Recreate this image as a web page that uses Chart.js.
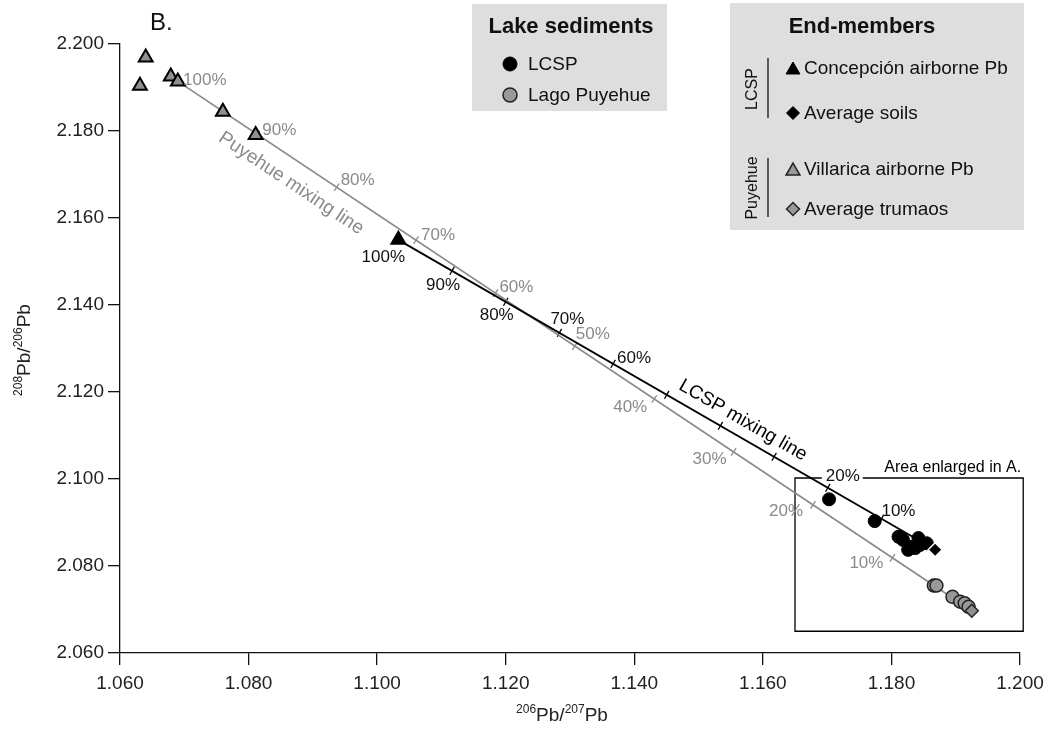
<!DOCTYPE html>
<html>
<head>
<meta charset="utf-8">
<script src="https://cdn.jsdelivr.net/npm/chart.js@4.4.0/dist/chart.umd.min.js"></script>
<style>
  body { margin: 0; background: #fff; }
</style>
</head>
<body>
<canvas id="myChart" width="1055" height="729"></canvas>
<script>
// Lake sediments
const lcspX = [1.1703, 1.1774, 1.1811, 1.1818, 1.1829, 1.1842, 1.1844, 1.1855, 1.1837, 1.1826];
const lcspY = [2.0953, 2.0903, 2.0867, 2.0860, 2.0844, 2.0864, 2.0848, 2.0852, 2.0841, 2.0837];
const puyX = [1.1866, 1.1870, 1.1895, 1.1907, 1.1914, 1.1920];
const puyY = [2.0755, 2.0755, 2.0729, 2.0718, 2.0714, 2.0706];

// End-members
const villaricaX = [1.0631, 1.0640, 1.0679, 1.0690, 1.0760, 1.0811];
const villaricaY = [2.1903, 2.1968, 2.1924, 2.1913, 2.1843, 2.1790];
const concepcionX = [1.1033];
const concepcionY = [2.1549];
const soilsX = [1.1868];
const soilsY = [2.0837];
const trumaosX = [1.1925];
const trumaosY = [2.0697];

// mixing line percentages (share of the airborne end-member)
const mixPct = [10, 20, 30, 40, 50, 60, 70, 80, 90];
const lcspLabels = [100, 90, 80, 70, 60, 20, 10];
const puyLabels = [100, 90, 80, 70, 60, 50, 40, 30, 20, 10];

// area enlarged in panel A
const areaX = [1.165, 1.2005];
const areaY = [2.065, 2.1002];

// axis ticks
const xTickValues = [1.06, 1.08, 1.10, 1.12, 1.14, 1.16, 1.18, 1.20];
const yTickValues = [2.06, 2.08, 2.10, 2.12, 2.14, 2.16, 2.18, 2.20];

const FONT = "'Liberation Sans', Arial, sans-serif";
const GREY = "#8a8a8a";

const pts = (xs, ys) => xs.map((x, i) => ({ x: x, y: ys[i] }));

// end points of the two mixing lines: [100% end, 0% end]
const lcspEnds = [{ x: concepcionX[0], y: concepcionY[0] }, { x: soilsX[0], y: soilsY[0] }];
const puyEnds = [{ x: villaricaX[3], y: villaricaY[3] }, { x: trumaosX[0], y: trumaosY[0] }];

const lcspOffsets = { 100: [-15, 17], 90: [-9, 14], 80: [-9, 13], 70: [8, -14], 60: [21, -6], 20: [15, -12], 10: [17, -8] };
const puyOffsets = { 100: [27, -1], 90: [22, -4], 80: [21, -7], 70: [22, -5], 60: [21, -6], 50: [18, -12], 40: [-24, 8], 30: [-24, 7], 20: [-27, 6], 10: [-26, 5] };

function linePx(chart, ends) {
  const sx = chart.scales.x, sy = chart.scales.y;
  return {
    a: { x: sx.getPixelForValue(ends[0].x), y: sy.getPixelForValue(ends[0].y) },
    b: { x: sx.getPixelForValue(ends[1].x), y: sy.getPixelForValue(ends[1].y) }
  };
}
// position at p percent (100 = first end, 0 = second end)
function atPct(l, p) {
  const f = p / 100;
  return { x: l.b.x + f * (l.a.x - l.b.x), y: l.b.y + f * (l.a.y - l.b.y) };
}

const mixingPlugin = {
  id: "mixing",
  beforeDatasetsDraw(chart) {
    const ctx = chart.ctx;
    // tick marks along the mixing lines
    [[lcspEnds, "#000"], [puyEnds, GREY]].forEach(([ends, col]) => {
      const l = linePx(chart, ends);
      const len = Math.hypot(l.b.x - l.a.x, l.b.y - l.a.y);
      const nx = -(l.b.y - l.a.y) / len, ny = (l.b.x - l.a.x) / len;
      ctx.save();
      ctx.strokeStyle = col;
      ctx.lineWidth = 1.3;
      mixPct.forEach(p => {
        const q = atPct(l, p);
        ctx.beginPath();
        ctx.moveTo(q.x - nx * 4.5, q.y - ny * 4.5);
        ctx.lineTo(q.x + nx * 4.5, q.y + ny * 4.5);
        ctx.stroke();
      });
      ctx.restore();
    });

    // area enlarged box, gap in the top edge for the 20% label
    const sx = chart.scales.x, sy = chart.scales.y;
    const x0 = sx.getPixelForValue(areaX[0]), x1 = sx.getPixelForValue(areaX[1]);
    const y0 = sy.getPixelForValue(areaY[1]), y1 = sy.getPixelForValue(areaY[0]);
    const l = linePx(chart, lcspEnds);
    const q20 = atPct(l, 20);
    const gapA = q20.x - 6, gapB = q20.x + 35;
    ctx.save();
    ctx.strokeStyle = "#000";
    ctx.lineWidth = 1.3;
    ctx.beginPath();
    ctx.moveTo(gapA, y0); ctx.lineTo(x0, y0); ctx.lineTo(x0, y1);
    ctx.lineTo(x1, y1); ctx.lineTo(x1, y0); ctx.lineTo(gapB, y0);
    ctx.stroke();
    ctx.fillStyle = "#000";
    ctx.font = "16px " + FONT;
    ctx.textAlign = "right";
    ctx.textBaseline = "alphabetic";
    ctx.fillText("Area enlarged in A.", x1 - 2, y0 - 6);
    ctx.restore();
  },
  afterDraw(chart) {
    const ctx = chart.ctx;
    ctx.save();
    ctx.textAlign = "center";
    ctx.textBaseline = "middle";
    ctx.font = "17px " + FONT;

    const l1 = linePx(chart, lcspEnds);
    ctx.fillStyle = "#111";
    lcspLabels.forEach(p => {
      const q = atPct(l1, p), o = lcspOffsets[p];
      ctx.fillText(p + "%", q.x + o[0], q.y + o[1]);
    });
    const l2 = linePx(chart, puyEnds);
    ctx.fillStyle = GREY;
    puyLabels.forEach(p => {
      const q = atPct(l2, p), o = puyOffsets[p];
      ctx.fillText(p + "%", q.x + o[0], q.y + o[1]);
    });

    // rotated line names
    const label = (l, frac, off, text, col) => {
      const dx = l.b.x - l.a.x, dy = l.b.y - l.a.y, len = Math.hypot(dx, dy);
      const ux = dx / len, uy = dy / len;
      const cx = l.a.x + ux * len * frac - uy * off;
      const cy = l.a.y + uy * len * frac + ux * off;
      ctx.save();
      ctx.translate(cx, cy);
      ctx.rotate(Math.atan2(dy, dx));
      ctx.fillStyle = col;
      ctx.font = "19px " + FONT;
      ctx.fillText(text, 0, 0);
      ctx.restore();
    };
    label(l2, 0.158, 22, "Puyehue mixing line", GREY);
    label(l1, 0.627, -16, "LCSP mixing line", "#000");

    // panel letter
    ctx.fillStyle = "#111";
    ctx.font = "24px " + FONT;
    ctx.textAlign = "left";
    ctx.fillText("B.", 150, 23);

    // axis titles with superscripts
    const isoTitle = (parts, cx, cy, rot) => {
      ctx.save();
      ctx.translate(cx, cy);
      ctx.rotate(rot);
      ctx.fillStyle = "#222";
      ctx.textAlign = "left";
      ctx.textBaseline = "alphabetic";
      let w = 0;
      parts.forEach(([t, sup]) => { ctx.font = (sup ? "12px " : "19px ") + FONT; w += ctx.measureText(t).width; });
      let x = -w / 2;
      parts.forEach(([t, sup]) => {
        ctx.font = (sup ? "12px " : "19px ") + FONT;
        ctx.fillText(t, x, sup ? -1 : 7);
        x += ctx.measureText(t).width;
      });
      ctx.restore();
    };
    isoTitle([["208", 1], ["Pb/", 0], ["206", 1], ["Pb", 0]], 23, 350, -Math.PI / 2);
    isoTitle([["206", 1], ["Pb/", 0], ["207", 1], ["Pb", 0]], 562, 714, 0);

    // legends
    const drawMark = (style, fill, stroke, bw, r, x, y) => {
      ctx.save();
      ctx.fillStyle = fill;
      ctx.strokeStyle = stroke;
      ctx.lineWidth = bw;
      Chart.helpers.drawPoint(ctx, { pointStyle: style, radius: r, rotation: 0, borderWidth: bw }, x, y);
      ctx.restore();
    };
    ctx.fillStyle = "#dedede";
    ctx.fillRect(472, 4, 195, 107);
    ctx.fillRect(730, 3, 294, 227);

    ctx.fillStyle = "#111";
    ctx.textAlign = "center";
    ctx.font = "bold 22px " + FONT;
    ctx.fillText("Lake sediments", 571, 27);
    ctx.fillText("End-members", 862, 27);

    ctx.font = "19px " + FONT;
    ctx.textAlign = "left";
    drawMark("circle", "#000", "#000", 1, 7, 510, 64);
    drawMark("circle", "#999", "#222", 1.5, 7, 510, 95);
    ctx.fillStyle = "#111";
    ctx.fillText("LCSP", 528, 65);
    ctx.fillText("Lago Puyehue", 528, 96);

    drawMark("triangle", "#000", "#000", 1, 8, 793, 70);
    drawMark("rectRot", "#000", "#000", 1, 6.5, 793, 113);
    drawMark("triangle", "#999", "#222", 1.5, 8, 793, 171);
    drawMark("rectRot", "#999", "#222", 1.5, 6.5, 793, 209);
    ctx.fillStyle = "#111";
    ctx.fillText("Concepción airborne Pb", 804, 69);
    ctx.fillText("Average soils", 804, 114);
    ctx.fillText("Villarica airborne Pb", 804, 170);
    ctx.fillText("Average trumaos", 804, 210);

    ctx.strokeStyle = "#111";
    ctx.lineWidth = 1.3;
    ctx.beginPath();
    ctx.moveTo(768, 58); ctx.lineTo(768, 118);
    ctx.moveTo(768, 158); ctx.lineTo(768, 217);
    ctx.stroke();

    ctx.font = "16px " + FONT;
    ctx.textAlign = "center";
    [["LCSP", 89], ["Puyehue", 188]].forEach(([t, y]) => {
      ctx.save();
      ctx.translate(753, y);
      ctx.rotate(-Math.PI / 2);
      ctx.fillText(t, 0, 0);
      ctx.restore();
    });
    ctx.restore();
  }
};

const axisOpts = (values, fit, pad) => ({
  type: "linear",
  min: values[0],
  max: values[values.length - 1],
  afterBuildTicks: s => { s.ticks = values.map(v => ({ value: v })); },
  afterFit: fit,
  grid: { display: true, drawOnChartArea: false, drawTicks: true, tickLength: 12, tickColor: "#111", lineWidth: 1.3 },
  border: { display: true, color: "#111", width: 1.3 },
  ticks: { callback: v => v.toFixed(3), color: "#222", padding: pad, font: { family: FONT, size: 19 }, maxRotation: 0, autoSkip: false }
});

const ctx = document.getElementById("myChart");

new Chart(ctx, {
  type: "scatter",
  data: {
    datasets: [
      { type: "line", data: lcspEnds, borderColor: "#000", borderWidth: 1.8, pointRadius: 0, fill: false, order: 10 },
      { type: "line", data: puyEnds, borderColor: GREY, borderWidth: 1.8, pointRadius: 0, fill: false, order: 10 },
      { label: "LCSP", data: pts(lcspX, lcspY), pointStyle: "circle", pointRadius: 6.5, backgroundColor: "#000", borderColor: "#000", borderWidth: 1, order: 5 },
      { label: "Lago Puyehue", data: pts(puyX, puyY), pointStyle: "circle", pointRadius: 6.5, backgroundColor: "#999", borderColor: "#222", borderWidth: 1.5, order: 5 },
      { label: "Villarica airborne Pb", data: pts(villaricaX, villaricaY), pointStyle: "triangle", pointRadius: 8, backgroundColor: "#8f8f8f", borderColor: "#000", borderWidth: 2, order: 1 },
      { label: "Concepción airborne Pb", data: pts(concepcionX, concepcionY), pointStyle: "triangle", pointRadius: 8, backgroundColor: "#000", borderColor: "#000", borderWidth: 2, order: 1 },
      { label: "Average soils", data: pts(soilsX, soilsY), pointStyle: "rectRot", pointRadius: 7, backgroundColor: "#000", borderColor: "#fff", borderWidth: 1.5, order: 1 },
      { label: "Average trumaos", data: pts(trumaosX, trumaosY), pointStyle: "rectRot", pointRadius: 6.5, backgroundColor: "#8f8f8f", borderColor: "#222", borderWidth: 1.5, order: 1 }
    ]
  },
  options: {
    responsive: false,
    animation: false,
    layout: { padding: { top: 43.5, right: 35, left: 0, bottom: 0 } },
    plugins: { legend: { display: false }, tooltip: { enabled: false } },
    scales: {
      x: axisOpts(xTickValues, s => { s.height = 76; }, 7),
      y: axisOpts(yTickValues, s => { s.width = 120; }, 4)
    }
  },
  plugins: [mixingPlugin]
});
</script>
</body>
</html>
